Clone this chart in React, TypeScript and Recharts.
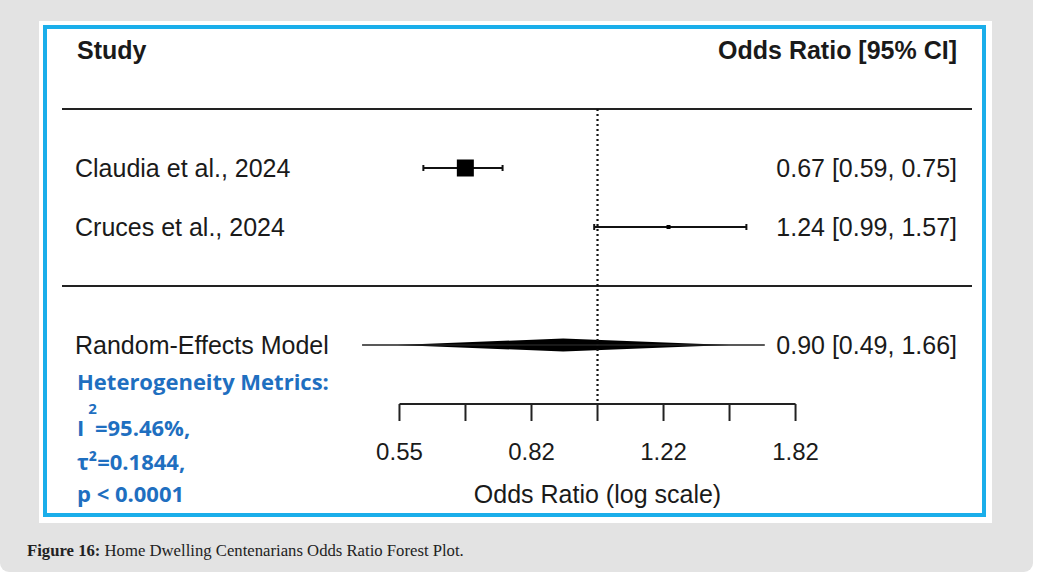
import React from "react";
import {
  ComposedChart,
  XAxis,
  YAxis,
  Scatter,
  ErrorBar,
  ReferenceLine,
  ReferenceArea,
} from "recharts";

// study rows
const studyNames = ["Claudia et al., 2024", "Cruces et al., 2024"];
const studyOR = [0.67, 1.24];
const studyLow = [0.59, 0.99];
const studyHigh = [0.75, 1.57];
const studyRow = [1, 2];

// pooled estimate
const pooledName = "Random-Effects Model";
const pooledOR = 0.9;
const pooledLow = 0.49;
const pooledHigh = 1.66;
const pooledRow = 4;
const diamondLow = 0.545;
const diamondHigh = 1.49;

// header row
const headerRow = -1;
const headerLeft = "Study";
const headerRight = "Odds Ratio [95% CI]";

// x axis (log scale)
const tickValues = [0.5488, 0.6703, 0.8187, 1, 1.2214, 1.4918, 1.8221];
const tickLabels = ["0.55", "", "0.82", "", "1.22", "", "1.82"];
const axisTitle = "Odds Ratio (log scale)";

// heterogeneity
const i2Text = "95.46%,";
const tau2Text = "0.1844,";
const pText = "p < 0.0001";

const BOX_PX = [17, 4];
const SANS = "'Liberation Sans', Arial, sans-serif";
const BLUE = "#1f6fc0";
const INK = "#1a1a1a";

const fmt = (or: number, lo: number, hi: number) =>
  `${or.toFixed(2)} [${lo.toFixed(2)}, ${hi.toFixed(2)}]`;

const studyData = studyNames.map((name, i) => ({
  name,
  x: studyOR[i],
  y: studyRow[i],
  err: [studyOR[i] - studyLow[i], studyHigh[i] - studyOR[i]],
  box: BOX_PX[i],
}));

const pooledData = [
  {
    name: pooledName,
    x: pooledOR,
    y: pooledRow,
    err: [pooledOR - pooledLow, pooledHigh - pooledOR],
  },
];

// text rows, placed on the y scale
const labelData = [
  { x: 1, y: headerRow, left: headerLeft, right: headerRight, bold: true },
  ...studyNames.map((n, i) => ({
    x: 1,
    y: studyRow[i],
    left: n,
    right: fmt(studyOR[i], studyLow[i], studyHigh[i]),
    bold: false,
  })),
  {
    x: 1,
    y: pooledRow,
    left: pooledName,
    right: fmt(pooledOR, pooledLow, pooledHigh),
    bold: false,
  },
];

const RowLabel = (props: any) => {
  const { cy, payload } = props;
  const weight = payload.bold ? 700 : 400;
  return (
    <g>
      <text
        x={payload.bold ? 77 : 75}
        y={cy}
        dominantBaseline="central"
        textAnchor="start"
        fontFamily={SANS}
        fontSize={25}
        fontWeight={weight}
        fill={INK}
      >
        {payload.left}
      </text>
      <text
        x={957}
        y={cy}
        dominantBaseline="central"
        textAnchor="end"
        fontFamily={SANS}
        fontSize={25}
        fontWeight={weight}
        fill={INK}
      >
        {payload.right}
      </text>
    </g>
  );
};

const AxisTick = (props: any) => {
  const { x, y, index } = props;
  return (
    <g>
      <text
        x={x}
        y={y + 28}
        textAnchor="middle"
        dominantBaseline="central"
        fontFamily={SANS}
        fontSize={24}
        fill={INK}
      >
        {tickLabels[index]}
      </text>
      {index === 3 && (
        <text
          x={x}
          y={y + 71}
          textAnchor="middle"
          dominantBaseline="central"
          fontFamily={SANS}
          fontSize={25}
          fill={INK}
        >
          {axisTitle}
        </text>
      )}
    </g>
  );
};

const BoxShape = (props: any) => {
  const { cx, cy, payload } = props;
  const s = payload.box;
  return <rect x={cx - s / 2} y={cy - s / 2} width={s} height={s} fill="#000" />;
};

const Diamond = (props: any) => {
  const { x, y, width, height } = props;
  const pts = [
    [x, y + height / 2],
    [x + width / 2, y],
    [x + width, y + height / 2],
    [x + width / 2, y + height],
  ]
    .map((p) => p.join(","))
    .join(" ");
  return <polygon points={pts} fill="#000" />;
};

const hetLine = (top: number): React.CSSProperties => ({
  position: "absolute",
  left: 77,
  top,
  lineHeight: "26px",
  fontFamily: "'Open Sans', sans-serif",
  fontWeight: 700,
  fontSize: 22,
  color: BLUE,
  whiteSpace: "nowrap",
});

export default function App() {
  return (
    <div
      style={{
        position: "absolute",
        left: 0,
        top: 0,
        width: 1038,
        height: 575,
        background: "#fff",
      }}
    >
      <div
        style={{
          position: "absolute",
          left: 0,
          top: -10,
          width: 1033,
          height: 582,
          background: "#e3e3e3",
          borderRadius: 9,
        }}
      />
      <div
        style={{
          position: "absolute",
          left: 39,
          top: 21,
          width: 953,
          height: 502,
          background: "#fff",
        }}
      />
      <div
        style={{
          position: "absolute",
          left: 43,
          top: 25,
          width: 935,
          height: 484,
          border: "4px solid #1aaeea",
        }}
      />
      <div style={{ position: "absolute", left: 0, top: 0 }}>
        <ComposedChart
          width={1038}
          height={575}
          margin={{ top: 0, right: 66, bottom: 0, left: 62 }}
        >
          <XAxis
            dataKey="x"
            type="number"
            scale="log"
            domain={[0.1974, 3.11]}
            allowDataOverflow
            ticks={tickValues}
            interval={0}
            height={171}
            axisLine={false}
            tickSize={17}
            tickLine={{ stroke: "#222", strokeWidth: 2 }}
            tick={<AxisTick />}
          />
          <YAxis
            dataKey="y"
            type="number"
            domain={[-1.8475, 5]}
            reversed
            allowDataOverflow
            hide
          />
          <ReferenceLine y={0} stroke="#222" strokeWidth={2} />
          <ReferenceLine y={3} stroke="#222" strokeWidth={2} />
          <ReferenceLine
            segment={[
              { x: 1, y: 0 },
              { x: 1, y: 5 },
            ]}
            stroke="#111"
            strokeWidth={2.2}
            strokeDasharray="2 3"
            ifOverflow="visible"
          />
          <ReferenceLine
            segment={[
              { x: tickValues[0], y: 5 },
              { x: tickValues[tickValues.length - 1], y: 5 },
            ]}
            stroke="#222"
            strokeWidth={2}
            ifOverflow="visible"
          />
          <ReferenceArea
            x1={diamondLow}
            x2={diamondHigh}
            y1={pooledRow - 0.11}
            y2={pooledRow + 0.11}
            shape={<Diamond />}
            ifOverflow="visible"
          />
          <Scatter
            data={labelData}
            dataKey="y"
            shape={<RowLabel />}
            isAnimationActive={false}
          />
          <Scatter
            data={pooledData}
            dataKey="y"
            shape={() => <g />}
            isAnimationActive={false}
          >
            <ErrorBar
              dataKey="err"
              direction="x"
              width={0}
              stroke="#222"
              strokeWidth={1.5}
              isAnimationActive={false}
            />
          </Scatter>
          <Scatter
            data={studyData}
            dataKey="y"
            shape={<BoxShape />}
            isAnimationActive={false}
          >
            <ErrorBar
              dataKey="err"
              direction="x"
              width={3}
              stroke="#111"
              strokeWidth={2}
              isAnimationActive={false}
            />
          </Scatter>
        </ComposedChart>
      </div>
      <div style={hetLine(368)}>Heterogeneity Metrics:</div>
      <div style={hetLine(414)}>
        I
        <span
          style={{
            position: "relative",
            top: -22,
            left: 4,
            fontSize: 15,
          }}
        >
          2
        </span>
        <span style={{ marginLeft: 2 }}>={i2Text}</span>
      </div>
      <div style={hetLine(448)}>τ²={tau2Text}</div>
      <div style={hetLine(480)}>{pText}</div>
      <div
        style={{
          position: "absolute",
          left: 27,
          top: 541,
          lineHeight: "20px",
          fontFamily: "'Liberation Serif', serif",
          fontSize: 16.7,
          color: "#222",
          whiteSpace: "nowrap",
        }}
      >
        <b>Figure 16:</b> Home Dwelling Centenarians Odds Ratio Forest Plot.
      </div>
    </div>
  );
}
